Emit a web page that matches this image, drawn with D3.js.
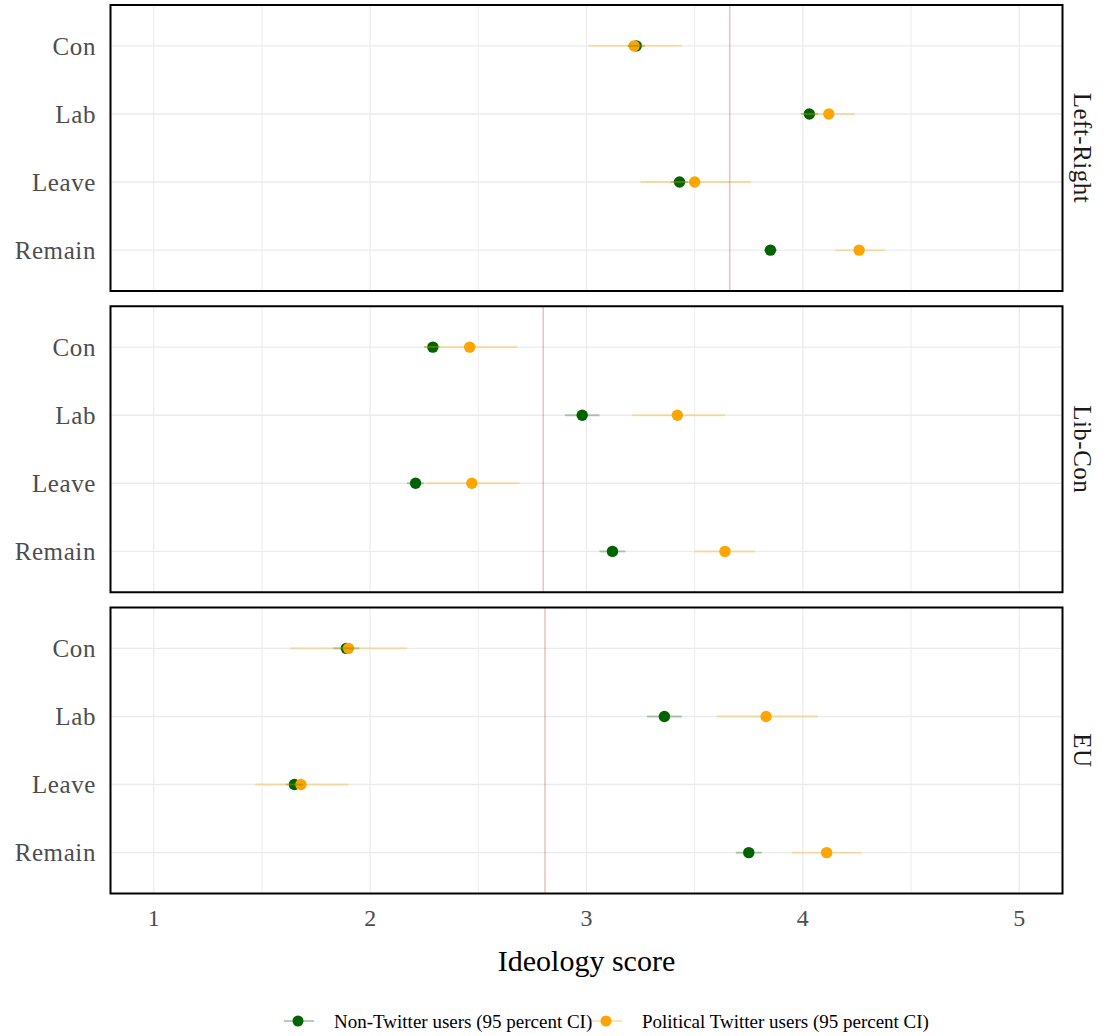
<!DOCTYPE html>
<html>
<head>
<meta charset="utf-8">
<script src="https://cdn.jsdelivr.net/npm/d3@7"></script>
<style>
  body { margin: 0; background: #fff; }
  text { font-family: "Liberation Serif", "DejaVu Serif", serif; }
</style>
</head>
<body>
<div id="chart"></div>
<script>
// rows and facets
var categories = ["Con", "Lab", "Leave", "Remain"];
var panels = ["Left-Right", "Lib-Con", "EU"];
var refLine = [3.662, 2.80, 2.808];
var xTicks = [1, 2, 3, 4, 5];
var xGrid = [1, 1.5, 2, 2.5, 3, 3.5, 4, 4.5, 5];

// Non-Twitter users: estimate, lower, upper (one row per panel)
var nonEst = [[3.23, 4.03, 3.43, 3.85], [2.29, 2.98, 2.21, 3.12], [1.89, 3.36, 1.65, 3.75]];
var nonLo  = [[3.19, 3.99, 3.39, 3.82], [2.25, 2.90, 2.17, 3.06], [1.83, 3.28, 1.61, 3.69]];
var nonHi  = [[3.27, 4.07, 3.47, 3.88], [2.32, 3.06, 2.25, 3.18], [1.95, 3.44, 1.69, 3.81]];

// Political Twitter users
var twEst = [[3.22, 4.12, 3.50, 4.26], [2.46, 3.42, 2.47, 3.64], [1.90, 3.83, 1.68, 4.11]];
var twLo  = [[3.01, 4.00, 3.25, 4.15], [2.25, 3.21, 2.26, 3.50], [1.63, 3.60, 1.47, 3.95]];
var twHi  = [[3.44, 4.24, 3.76, 4.38], [2.68, 3.64, 2.69, 3.78], [2.17, 4.07, 1.90, 4.27]];

var series = [
    {name: "Non-Twitter users (95 percent CI)", color: "#006400", est: nonEst, lo: nonLo, hi: nonHi},
    {name: "Political Twitter users (95 percent CI)", color: "#FFA500", est: twEst, lo: twLo, hi: twHi}
];

var width = 1108, height = 1036;
var left = 110.5, right = 1062.5;
var panelTop = 5, panelH = 286, panelGap = 15.25;

var svg = d3.select("#chart").append("svg")
    .attr("width", width)
    .attr("height", height);

var x = d3.scaleLinear().domain([0.8, 5.2]).range([left, right]);

panels.forEach(function (p, i) {
    var top = panelTop + i * (panelH + panelGap);
    var y = d3.scalePoint().domain(categories).range([top, top + panelH]).padding(0.6);
    var g = svg.append("g").attr("class", "panel");

    // grid
    g.selectAll(".vgrid").data(xGrid).enter().append("line")
        .attr("x1", function (d) { return x(d); })
        .attr("x2", function (d) { return x(d); })
        .attr("y1", top).attr("y2", top + panelH)
        .attr("stroke", "#ebebeb").attr("stroke-width", function (d) { return d % 1 === 0 ? 1.2 : 0.9; });
    g.selectAll(".hgrid").data(categories).enter().append("line")
        .attr("x1", left).attr("x2", right)
        .attr("y1", function (d) { return y(d); })
        .attr("y2", function (d) { return y(d); })
        .attr("stroke", "#ebebeb").attr("stroke-width", 1.4);

    // reference line
    g.append("line")
        .attr("x1", x(refLine[i])).attr("x2", x(refLine[i]))
        .attr("y1", top).attr("y2", top + panelH)
        .attr("stroke", "#b22234").attr("stroke-opacity", 0.3).attr("stroke-width", 1.4);

    // points then CI lines
    series.forEach(function (s) {
        g.selectAll(null).data(categories).enter().append("circle")
            .attr("cx", function (d, j) { return x(s.est[i][j]); })
            .attr("cy", function (d) { return y(d); })
            .attr("r", 5.7)
            .attr("fill", s.color);
    });
    series.forEach(function (s) {
        g.selectAll(null).data(categories).enter().append("line")
            .attr("x1", function (d, j) { return x(s.lo[i][j]); })
            .attr("x2", function (d, j) { return x(s.hi[i][j]); })
            .attr("y1", function (d) { return y(d); })
            .attr("y2", function (d) { return y(d); })
            .attr("stroke", s.color).attr("stroke-opacity", 0.3).attr("stroke-width", 2);
    });

    // border
    g.append("rect")
        .attr("x", left).attr("y", top)
        .attr("width", right - left).attr("height", panelH)
        .attr("fill", "none").attr("stroke", "#000").attr("stroke-width", 2);

    // y labels
    g.selectAll(".ylab").data(categories).enter().append("text")
        .attr("x", 96)
        .attr("y", function (d) { return y(d); })
        .attr("dy", "0.35em")
        .attr("text-anchor", "end")
        .attr("font-size", 25)
        .attr("letter-spacing", 0.6)
        .attr("fill", "#4d4d4d")
        .text(function (d) { return d; });

    // strip label
    g.append("text")
        .attr("transform", "translate(1083," + (top + panelH / 2) + ") rotate(90)")
        .attr("text-anchor", "middle")
        .attr("dy", "0.35em")
        .attr("font-size", 25)
        .attr("letter-spacing", 0.5)
        .attr("fill", "#1a1a1a")
        .text(p);
});

// x axis labels
var bottom = panelTop + 3 * panelH + 2 * panelGap;
svg.selectAll(".xlab").data(xTicks).enter().append("text")
    .attr("x", function (d) { return x(d); })
    .attr("y", bottom + 24)
    .attr("dy", "0.35em")
    .attr("text-anchor", "middle")
    .attr("font-size", 24)
    .attr("fill", "#4d4d4d")
    .text(function (d) { return d; });

svg.append("text")
    .attr("x", (left + right) / 2)
    .attr("y", 960)
    .attr("dy", "0.35em")
    .attr("text-anchor", "middle")
    .attr("font-size", 30)
    .attr("fill", "#000")
    .text("Ideology score");

// legend
var legendX = [298, 606];
var legend = svg.selectAll(".legend").data(series).enter().append("g")
    .attr("transform", function (d, i) { return "translate(" + legendX[i] + ",1021)"; });
legend.append("line")
    .attr("x1", -14).attr("x2", 16)
    .attr("stroke", function (d) { return d.color; })
    .attr("stroke-opacity", 0.3).attr("stroke-width", 2);
legend.append("circle")
    .attr("r", 5.5)
    .attr("fill", function (d) { return d.color; });
legend.append("text")
    .attr("x", 36)
    .attr("dy", "0.35em")
    .attr("font-size", 19)
    .attr("fill", "#000")
    .text(function (d) { return d.name; });
</script>
</body>
</html>
